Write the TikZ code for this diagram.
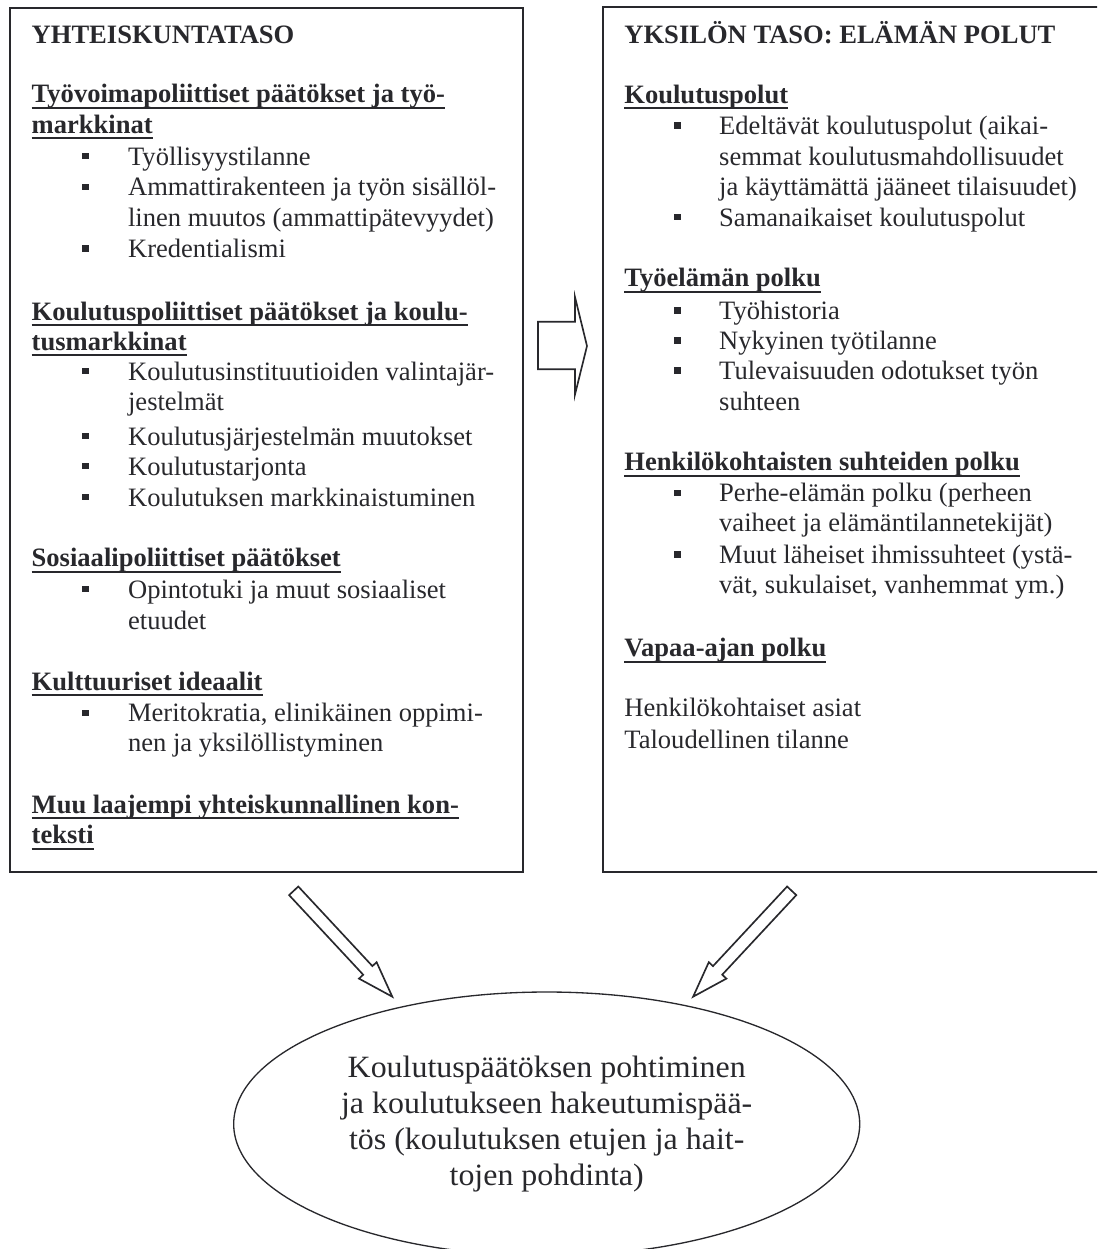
\documentclass[tikz,border=0pt]{standalone}
\usepackage{fontspec}
\setmainfont{Liberation Serif}
\newfontfamily\ellfont{Liberation Serif}[FakeStretch=1.03]
\usetikzlibrary{shapes.geometric}
\definecolor{ink}{RGB}{40,40,44}
\tikzset{
  tx/.style={anchor=base west, inner sep=0pt, outer sep=0pt, text=ink, font=\fontsize{12}{13.8}\selectfont},
  hdx/.style={tx, font=\bfseries\fontsize{12}{13.8}\selectfont},
  blt/.style={rectangle, fill=ink, inner sep=0pt, minimum size=2.9pt},
  ul/.style={draw=ink, line width=0.85pt},
  panel/.style={draw=ink, line width=0.9pt, rectangle, inner sep=0pt},
  blockarrow/.style={draw=ink, line width=0.75pt, line join=miter},
  etx/.style={anchor=base, inner sep=0pt, text=ink, font=\ellfont\fontsize{14}{16.1}\selectfont},
}
% heading with underline: name, x, y, text
\newcommand\mkhd[4]{\node[hdx] (#1) at (#2,#3) {#4};
  \draw[ul] ([yshift=-2.3pt]#1.base west) -- ([yshift=-2.3pt]#1.base east);}
% plain line: name, x, y, text
\newcommand\mktx[4]{\node[tx] (#1) at (#2,#3) {#4};}
% bullet item: name, bullet x, text x, y, text
\newcommand\mkbi[5]{\node[blt] (#1b) at (#2,#4-8.8) {};
  \node[tx] (#1) at (#3,#4) {#5};}
\begin{document}
\begin{tikzpicture}[x=0.4519pt, y=-0.4519pt]
\useasboundingbox (0,0) rectangle (1097,1249);
\clip (0,0) rectangle (1097,1249);

% panels
\node[panel, minimum width=231.5pt, minimum height=390.6pt] (lbox) at (266.4,439.8) {};
\node[panel, minimum width=225pt, minimum height=390.8pt] (rbox) at (851.5,439.5) {};

% left column
\node[hdx] (ltitle) at (31.7,43.3) {YHTEISKUNTATASO};
\mkhd{la1}{31.7}{102.7}{Työvoimapoliittiset päätökset ja työ-}
\mkhd{la2}{31.7}{133.3}{markkinat}
\mkbi{la3}{85.6}{128.1}{165}{Työllisyystilanne}
\mkbi{la4}{85.6}{128.1}{195.7}{Ammattirakenteen ja työn sisällöl-}
\mktx{la5}{128.1}{226.7}{linen muutos (ammattipätevyydet)}
\mkbi{la6}{85.6}{128.1}{257.3}{Kredentialismi}

\mkhd{lb1}{31.7}{320}{Koulutuspoliittiset päätökset ja koulu-}
\mkhd{lb2}{31.7}{350}{tusmarkkinat}
\mkbi{lb3}{85.6}{128.1}{380}{Koulutusinstituutioiden valintajär-}
\mktx{lb4}{128.1}{410}{jestelmät}
\mkbi{lb5}{85.6}{128.1}{445}{Koulutusjärjestelmän muutokset}
\mkbi{lb6}{85.6}{128.1}{475}{Koulutustarjonta}
\mkbi{lb7}{85.6}{128.1}{506}{Koulutuksen markkinaistuminen}

\mkhd{lc1}{31.7}{566.7}{Sosiaalipoliittiset päätökset}
\mkbi{lc2}{85.6}{128.1}{598}{Opintotuki ja muut sosiaaliset}
\mktx{lc3}{128.1}{629.3}{etuudet}

\mkhd{ld1}{31.7}{690}{Kulttuuriset ideaalit}
\mkbi{ld2}{85.6}{128.1}{721.7}{Meritokratia, elinikäinen oppimi-}
\mktx{ld3}{128.1}{751.7}{nen ja yksilöllistyminen}

\mkhd{le1}{31.7}{813}{Muu laajempi yhteiskunnallinen kon-}
\mkhd{le2}{31.7}{843.7}{teksti}

% right column
\node[hdx] (rtitle) at (624.4,43.3) {YKSILÖN TASO: ELÄMÄN POLUT};
\mkhd{ra1}{624.4}{103.3}{Koulutuspolut}
\mkbi{ra2}{677.5}{719.2}{134.3}{Edeltävät koulutuspolut (aikai-}
\mktx{ra3}{719.2}{165}{semmat koulutusmahdollisuudet}
\mktx{ra4}{719.2}{195}{ja käyttämättä jääneet tilaisuudet)}
\mkbi{ra5}{677.5}{719.2}{226}{Samanaikaiset koulutuspolut}

\mkhd{rb1}{624.4}{286.7}{Työelämän polku}
\mkbi{rb2}{677.5}{719.2}{319.3}{Työhistoria}
\mkbi{rb3}{677.5}{719.2}{349.3}{Nykyinen työtilanne}
\mkbi{rb4}{677.5}{719.2}{379.3}{Tulevaisuuden odotukset työn}
\mktx{rb5}{719.2}{410}{suhteen}

\mkhd{rc1}{624.4}{470.7}{Henkilökohtaisten suhteiden polku}
\mkbi{rc2}{677.5}{719.2}{501.7}{Perhe-elämän polku (perheen}
\mktx{rc3}{719.2}{531.7}{vaiheet ja elämäntilannetekijät)}
\mkbi{rc4}{677.5}{719.2}{563.3}{Muut läheiset ihmissuhteet (ystä-}
\mktx{rc5}{719.2}{593.3}{vät, sukulaiset, vanhemmat ym.)}

\mkhd{rd1}{624.4}{656.7}{Vapaa-ajan polku}
\mktx{rd2}{624.4}{716.7}{Henkilökohtaiset asiat}
\mktx{rd3}{624.4}{748.3}{Taloudellinen tilanne}

% ellipse
\node[draw=ink, line width=0.6pt, ellipse, inner sep=0pt,
      minimum width=282.9pt, minimum height=119.3pt] (goal) at (546.7,1124) {};
\node[etx] (g1) at (546.7,1077) {Koulutuspäätöksen pohtiminen};
\node[etx] (g2) at (546.7,1113) {ja koulutukseen hakeutumispää-};
\node[etx] (g3) at (546.7,1149) {tös (koulutuksen etujen ja hait-};
\node[etx] (g4) at (546.7,1185) {tojen pohdinta)};

% block arrows
\draw[blockarrow] (538,321.7) -- (575,321.7) -- (575,297) -- (587,346)
  -- (575,394.5) -- (575,369.3) -- (538,369.3) -- cycle;
\draw[blockarrow] (298.3,886.5) -- (372.4,966.1) -- (376.6,962.2) -- (392.3,996.7)
  -- (359.0,978.6) -- (363.2,974.7) -- (289.1,895.1) -- cycle;
\draw[blockarrow] (787.1,886.5) -- (713.0,966.1) -- (708.8,962.2) -- (693.1,996.7)
  -- (726.4,978.6) -- (722.2,974.7) -- (796.3,895.1) -- cycle;
\end{tikzpicture}
\end{document}
